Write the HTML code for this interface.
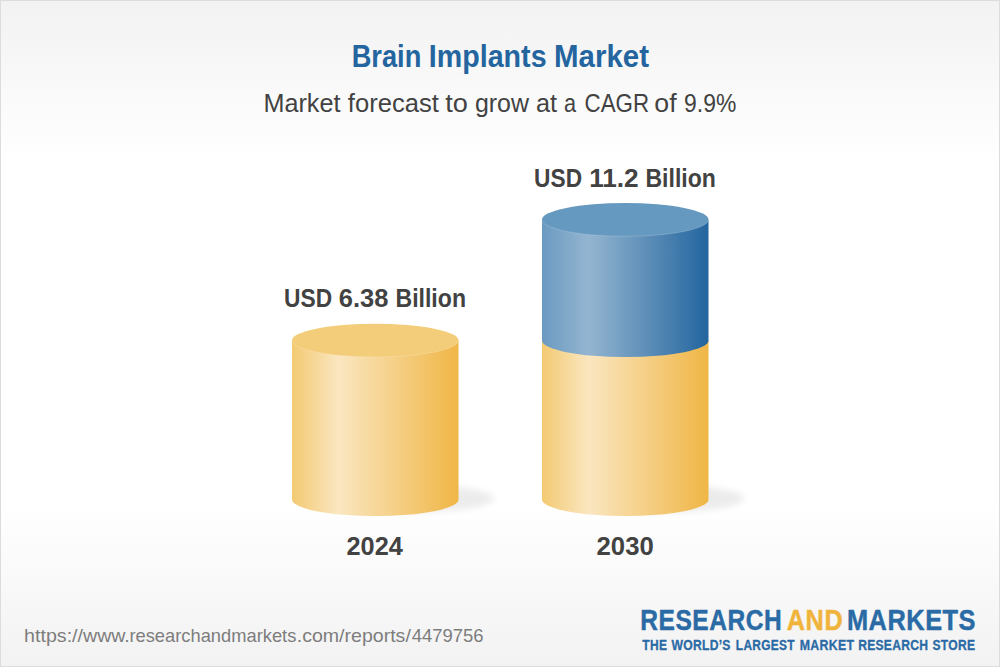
<!DOCTYPE html>
<html><head><meta charset="utf-8">
<style>
html,body{margin:0;padding:0;}
body{width:1000px;height:667px;overflow:hidden;position:relative;font-family:"Liberation Sans",sans-serif;}
#bg{position:absolute;left:0;top:0;width:1000px;height:667px;box-sizing:border-box;border:1px solid #dcdcdc;background:linear-gradient(#f2f2f2 0%,#ffffff 160px,#ffffff 505px,#f2f2f2 100%);}
svg{position:absolute;left:0;top:0;}
text{font-family:"Liberation Sans",sans-serif;}
</style></head>
<body>
<div id="bg"></div>
<svg width="1000" height="667" viewBox="0 0 1000 667">
<defs>
<linearGradient id="gy" x1="0" x2="1" y1="0" y2="0">
<stop offset="0" stop-color="#f3ca72"/><stop offset="0.28" stop-color="#fae6c0"/><stop offset="1" stop-color="#f0b646"/>
</linearGradient>
<linearGradient id="gb" x1="0" x2="1" y1="0" y2="0">
<stop offset="0" stop-color="#6a9ac1"/><stop offset="0.28" stop-color="#94b5d0"/><stop offset="1" stop-color="#23659f"/>
</linearGradient>
<filter id="blur" x="-50%" y="-100%" width="200%" height="300%"><feGaussianBlur stdDeviation="3.5"/></filter>
</defs>
<ellipse cx="414" cy="498.5" rx="80" ry="13.5" fill="#000" opacity="0.075" filter="url(#blur)"/>
<ellipse cx="664" cy="498.5" rx="80" ry="13.5" fill="#000" opacity="0.075" filter="url(#blur)"/>
<path d="M292 340.4 L292 499.5 A83.25 16.6 0 0 0 458.5 499.5 L458.5 340.4 Z" fill="url(#gy)"/>
<ellipse cx="375.25" cy="340.4" rx="83.25" ry="16.6" fill="#f3cd7a"/>
<path d="M292 340.4 A83.25 16.6 0 0 0 458.5 340.4" fill="none" stroke="#fff" stroke-opacity="0.22" stroke-width="0.8"/>
<path d="M542 340.4 L542 499.5 A83.25 16.6 0 0 0 708.5 499.5 L708.5 340.4 Z" fill="url(#gy)"/>
<path d="M542 219.7 L542 340.4 A83.25 16.6 0 0 0 708.5 340.4 L708.5 219.7 Z" fill="url(#gb)"/>
<ellipse cx="625.25" cy="219.7" rx="83.25" ry="16.6" fill="#6699bf"/>
<path d="M542 219.7 A83.25 16.6 0 0 0 708.5 219.7" fill="none" stroke="#fff" stroke-opacity="0.22" stroke-width="0.8"/>
<text class="t" id="ti0" x="351.68" y="67.00" font-size="32" font-weight="bold" fill="#2465a0" textLength="69.63" lengthAdjust="spacingAndGlyphs">Brain</text>
<text class="t" id="ti1" x="428.83" y="67.00" font-size="32" font-weight="bold" fill="#2465a0" textLength="117.73" lengthAdjust="spacingAndGlyphs">Implants</text>
<text class="t" id="ti2" x="554.10" y="67.00" font-size="32" font-weight="bold" fill="#2465a0" textLength="94.91" lengthAdjust="spacingAndGlyphs">Market</text>
<text class="t" id="su0" x="263.45" y="112.00" font-size="26" fill="#424242" textLength="77.00" lengthAdjust="spacingAndGlyphs">Market</text>
<text class="t" id="su1" x="347.84" y="112.00" font-size="26" fill="#424242" textLength="90.97" lengthAdjust="spacingAndGlyphs">forecast</text>
<text class="t" id="su2" x="445.32" y="112.00" font-size="26" fill="#424242" textLength="22.60" lengthAdjust="spacingAndGlyphs">to</text>
<text class="t" id="su3" x="474.89" y="112.00" font-size="26" fill="#424242" textLength="54.04" lengthAdjust="spacingAndGlyphs">grow</text>
<text class="t" id="su4" x="535.95" y="112.00" font-size="26" fill="#424242" textLength="21.07" lengthAdjust="spacingAndGlyphs">at</text>
<text class="t" id="su5" x="564.11" y="112.00" font-size="26" fill="#424242" textLength="12.07" lengthAdjust="spacingAndGlyphs">a</text>
<text class="t" id="su6" x="584.54" y="112.00" font-size="26" fill="#424242" textLength="64.47" lengthAdjust="spacingAndGlyphs">CAGR</text>
<text class="t" id="su7" x="654.39" y="112.00" font-size="26" fill="#424242" textLength="22.25" lengthAdjust="spacingAndGlyphs">of</text>
<text class="t" id="su8" x="684.09" y="112.00" font-size="26" fill="#424242" textLength="52.23" lengthAdjust="spacingAndGlyphs">9.9%</text>
<text class="t" id="la0" x="284.10" y="307.00" font-size="26" font-weight="bold" fill="#424242" textLength="48.10" lengthAdjust="spacingAndGlyphs">USD</text>
<text class="t" id="la1" x="338.74" y="307.00" font-size="26" font-weight="bold" fill="#424242" textLength="49.57" lengthAdjust="spacingAndGlyphs">6.38</text>
<text class="t" id="la2" x="395.47" y="307.00" font-size="26" font-weight="bold" fill="#424242" textLength="70.51" lengthAdjust="spacingAndGlyphs">Billion</text>
<text class="t" id="lb0" x="534.11" y="187.00" font-size="26" font-weight="bold" fill="#424242" textLength="47.93" lengthAdjust="spacingAndGlyphs">USD</text>
<text class="t" id="lb1" x="589.17" y="187.00" font-size="26" font-weight="bold" fill="#424242" textLength="49.50" lengthAdjust="spacingAndGlyphs">11.2</text>
<text class="t" id="lb2" x="645.48" y="187.00" font-size="26" font-weight="bold" fill="#424242" textLength="70.35" lengthAdjust="spacingAndGlyphs">Billion</text>
<text class="t" id="ya0" x="346.55" y="555.00" font-size="26" font-weight="bold" fill="#424242" textLength="56.26" lengthAdjust="spacingAndGlyphs">2024</text>
<text class="t" id="yb0" x="596.59" y="555.00" font-size="26" font-weight="bold" fill="#424242" textLength="57.14" lengthAdjust="spacingAndGlyphs">2030</text>
<text class="t" id="ur0" x="24.14" y="642.00" font-size="19" fill="#7d7d7d" textLength="105.69" lengthAdjust="spacingAndGlyphs">https://www.</text>
<text class="t" id="ur1" x="129.45" y="642.00" font-size="19" fill="#7d7d7d" textLength="166.88" lengthAdjust="spacingAndGlyphs">researchandmarkets</text>
<text class="t" id="ur2" x="296.72" y="642.00" font-size="19" fill="#7d7d7d" textLength="114.12" lengthAdjust="spacingAndGlyphs">.com/reports/</text>
<text class="t" id="ur3" x="411.67" y="642.00" font-size="19" fill="#7d7d7d" textLength="71.85" lengthAdjust="spacingAndGlyphs">4479756</text>
<text class="t" id="lg0" x="640.30" y="630.00" font-size="29" font-weight="bold" letter-spacing="0.6" stroke="#2a6aa5" stroke-width="0.45" stroke-linejoin="round" fill="#2a6aa5" textLength="141.89" lengthAdjust="spacingAndGlyphs">RESEARCH</text>
<text class="t" id="lg1" x="786.87" y="630.00" font-size="29" font-weight="bold" letter-spacing="0.6" stroke="#f0b43c" stroke-width="0.45" stroke-linejoin="round" fill="#f0b43c" textLength="56.30" lengthAdjust="spacingAndGlyphs">AND</text>
<text class="t" id="lg2" x="846.89" y="630.00" font-size="29" font-weight="bold" letter-spacing="0.6" stroke="#2a6aa5" stroke-width="0.45" stroke-linejoin="round" fill="#2a6aa5" textLength="129.21" lengthAdjust="spacingAndGlyphs">MARKETS</text>
<text class="t" id="tg0" x="642.36" y="650.00" font-size="14" font-weight="bold" letter-spacing="0.3" stroke="#2a6aa5" stroke-width="0.3" stroke-linejoin="round" fill="#2a6aa5" textLength="24.83" lengthAdjust="spacingAndGlyphs">THE</text>
<text class="t" id="tg1" x="671.53" y="650.00" font-size="14" font-weight="bold" letter-spacing="0.3" stroke="#2a6aa5" stroke-width="0.3" stroke-linejoin="round" fill="#2a6aa5" textLength="59.16" lengthAdjust="spacingAndGlyphs">WORLD’S</text>
<text class="t" id="tg2" x="735.87" y="650.00" font-size="14" font-weight="bold" letter-spacing="0.3" stroke="#2a6aa5" stroke-width="0.3" stroke-linejoin="round" fill="#2a6aa5" textLength="58.83" lengthAdjust="spacingAndGlyphs">LARGEST</text>
<text class="t" id="tg3" x="799.81" y="650.00" font-size="14" font-weight="bold" letter-spacing="0.3" stroke="#2a6aa5" stroke-width="0.3" stroke-linejoin="round" fill="#2a6aa5" textLength="54.43" lengthAdjust="spacingAndGlyphs">MARKET</text>
<text class="t" id="tg4" x="858.19" y="650.00" font-size="14" font-weight="bold" letter-spacing="0.3" stroke="#2a6aa5" stroke-width="0.3" stroke-linejoin="round" fill="#2a6aa5" textLength="69.94" lengthAdjust="spacingAndGlyphs">RESEARCH</text>
<text class="t" id="tg5" x="932.54" y="650.00" font-size="14" font-weight="bold" letter-spacing="0.3" stroke="#2a6aa5" stroke-width="0.3" stroke-linejoin="round" fill="#2a6aa5" textLength="42.73" lengthAdjust="spacingAndGlyphs">STORE</text>
</svg>
</body></html>
